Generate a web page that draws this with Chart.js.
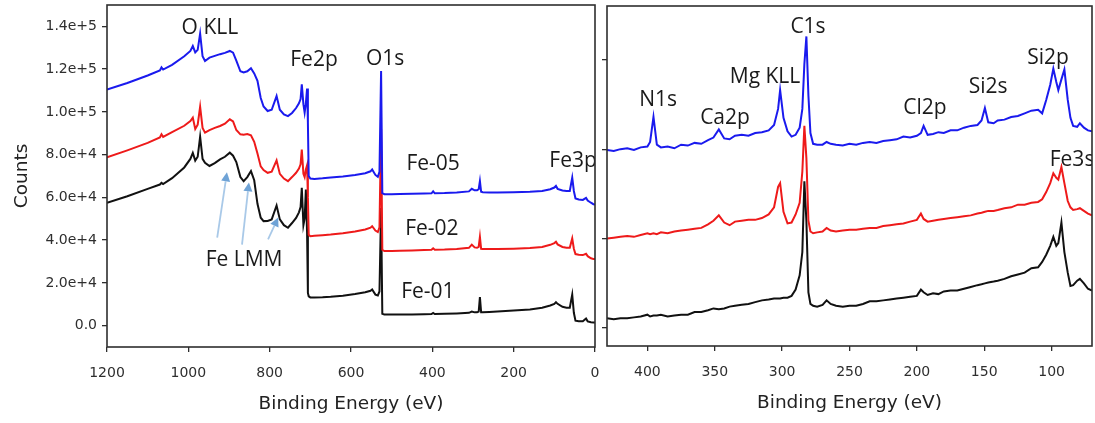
<!DOCTYPE html>
<html>
<head>
<meta charset="utf-8">
<script src="https://cdn.jsdelivr.net/npm/chart.js@4.4.1/dist/chart.umd.min.js"></script>
<style>
  html, body { margin: 0; padding: 0; background: #ffffff; }
  #wrap { position: relative; width: 1095px; height: 423px; overflow: hidden; background: #fff; }
  #c1 { position: absolute; left: 0; top: 0; }
  #c2 { position: absolute; left: 600px; top: 0; }
</style>
</head>
<body>
<div id="wrap">
  <canvas id="c1" width="600" height="423"></canvas>
  <canvas id="c2" width="495" height="423"></canvas>
</div>
<script>
// ---------------- DATA: survey panel (binding energy, eV) ----------------
const surveyEnergy = [
  1200, 1150, 1100, 1070, 1066, 1062, 1040, 1010, 995, 989,
  983, 977, 971, 965, 959, 948, 935, 922, 910, 898,
  890, 882, 872, 864, 855, 846, 838, 830, 822, 815,
  805, 795, 783, 775, 765, 755, 745, 735, 728, 724,
  721, 717, 714, 711, 708, 706, 704, 700, 690, 670,
  650, 620, 590, 565, 552, 548, 540, 534, 530, 526,
  523, 518, 500, 480, 450, 420, 402, 398, 394, 370,
  340, 310, 303, 296, 290, 286, 283, 280, 276, 260,
  240, 200, 160, 130, 110, 100, 96, 92, 80, 70,
  62, 56, 52, 48, 40, 30, 22, 18, 10, 4,
  0
];
const surveyFe05 = [
  110500, 113500, 117000, 119400, 120800, 119800, 122000, 126000, 128500, 130800,
  127800, 129000, 136600, 126000, 123800, 125400, 126200, 127000, 127600, 128500,
  127700, 124000, 119000, 118400, 119000, 120400, 118000, 114500, 106500, 102500,
  100400, 101000, 107400, 101000, 98800, 98000, 99500, 101800, 104000, 106000,
  112900, 103500, 99700, 104000, 110900, 95000, 70000, 68800, 68600, 68900,
  69300, 69800, 70500, 71300, 72200, 73100, 70500, 69600, 72000, 119100,
  62000, 61500, 61500, 61600, 61700, 61800, 61900, 62800, 61900, 62000,
  62300, 62800, 64000, 63300, 63300, 63800, 67600, 62600, 62400, 62300,
  62300, 62400, 62600, 63000, 63800, 64600, 65400, 64000, 63200, 63000,
  63000, 69200, 63000, 59500, 59000, 58800, 59800, 58500, 57500, 56800,
  56700
];
const surveyFe02 = [
  78700, 82000, 85500, 88000, 89500, 88300, 90500, 93500, 95700, 97300,
  92000, 94000, 102400, 92500, 90300, 91500, 92500, 93400, 94500, 96500,
  95500, 91500, 89500, 89300, 89600, 89000, 86000, 80500, 74500, 72800,
  71500, 72000, 77300, 71000, 68800, 67600, 69500, 71500, 73500, 75500,
  82400, 71000, 69500, 73000, 75000, 60000, 42500, 41800, 42000, 42300,
  42600, 43200, 44000, 45000, 45800, 46500, 44500, 43800, 46000, 92000,
  35500, 34900, 34900, 35000, 35200, 35400, 35500, 36200, 35500, 35600,
  35900, 36400, 37900, 36600, 36400, 36800, 41500, 35900, 35800, 35800,
  35800, 36000, 36300, 36800, 37800, 38600, 39200, 38000, 36800, 36400,
  36400, 40800, 36000, 33500, 33200, 33000, 33600, 32500, 31500, 31200,
  31200
];
const surveyFe01 = [
  57500, 60500, 64000, 66000, 66800, 66200, 69000, 74000, 78000, 80800,
  77200, 79000, 88400, 78000, 76200, 74700, 76000, 77800, 79000, 80900,
  79500, 76500, 69500, 67600, 69500, 72300, 68000, 57000, 50500, 48900,
  49000, 49700, 56200, 49700, 47000, 45800, 48000, 50400, 53000, 55500,
  64500, 47000, 50000, 63700, 43400, 15300, 13700, 13200, 13200, 13300,
  13500, 14000, 14800, 15600, 16300, 16900, 14500, 14100, 16000, 55000,
  5500, 5200, 5200, 5200, 5200, 5300, 5400, 5900, 5400, 5500,
  5700, 6000, 6600, 6200, 6200, 6600, 13400, 6200, 6200, 6400,
  6600, 7100, 7600, 8400, 9400, 10200, 11000, 10200, 8800, 8400,
  8400, 14500, 6000, 2300, 2000, 2000, 3300, 2000, 1600, 1500,
  1500
];
const surveyXTicks = [1200, 1000, 800, 600, 400, 200, 0];
const surveyXTickLabels = ['1200', '1000', '800', '600', '400', '200', '0'];
const surveyYTicks = [0, 20000, 40000, 60000, 80000, 100000, 120000, 140000];
const surveyYTickLabels = ['0.0', '2.0e+4', '4.0e+4', '6.0e+4', '8.0e+4', '1.0e+5', '1.2e+5', '1.4e+5'];

// ---------------- DATA: detail panel (binding energy, eV; arbitrary units) ----------------
const detailEnergy = [
  430, 425, 420, 415, 410, 405, 400, 398, 395.5, 393,
  390, 385, 380, 375, 370, 365, 360, 355, 351, 347,
  343, 339, 335, 330, 325, 320, 315, 310, 306, 303,
  301.5, 299, 296, 293, 290, 287, 285, 283.5, 282, 280.5,
  279, 277, 274, 270, 267, 264, 260, 255, 250, 245,
  240, 235, 230, 225, 220, 215, 210, 205, 200, 197,
  195, 192, 188, 184, 180, 175, 170, 165, 160, 155,
  152, 149.5, 147, 143, 140, 135, 130, 125, 120, 115,
  110, 107, 104, 101, 98.7, 96.5, 95, 92.7, 90.5, 88,
  86, 84, 81, 79, 76, 73, 70
];
const detailFe05 = [
  1.99, 1.98, 2.00, 2.01, 1.99, 2.02, 2.03, 2.08, 2.36, 2.05,
  2.02, 2.03, 2.01, 2.05, 2.04, 2.07, 2.06, 2.10, 2.13, 2.22,
  2.12, 2.11, 2.15, 2.16, 2.15, 2.18, 2.19, 2.21, 2.27, 2.45,
  2.66, 2.35, 2.20, 2.14, 2.16, 2.24, 2.45, 2.95, 3.26, 2.60,
  2.18, 2.06, 2.05, 2.05, 2.08, 2.06, 2.05, 2.04, 2.06, 2.05,
  2.07, 2.08, 2.07, 2.09, 2.10, 2.11, 2.14, 2.13, 2.15, 2.18,
  2.26, 2.16, 2.17, 2.19, 2.18, 2.21, 2.21, 2.24, 2.26, 2.27,
  2.32, 2.46, 2.30, 2.29, 2.32, 2.33, 2.36, 2.37, 2.40, 2.43,
  2.44, 2.40, 2.55, 2.72, 2.90, 2.75, 2.66, 2.78, 2.89, 2.55,
  2.35, 2.26, 2.25, 2.29, 2.24, 2.21, 2.20
];
const detailFe02 = [
  1.00, 1.01, 1.02, 1.03, 1.02, 1.04, 1.06, 1.05, 1.06, 1.05,
  1.07, 1.06, 1.08, 1.09, 1.10, 1.11, 1.12, 1.16, 1.20, 1.26,
  1.18, 1.15, 1.19, 1.20, 1.21, 1.21, 1.23, 1.27, 1.35, 1.58,
  1.62, 1.30, 1.17, 1.18, 1.27, 1.40, 1.75, 2.26, 1.90, 1.20,
  1.08, 1.06, 1.07, 1.08, 1.12, 1.09, 1.08, 1.09, 1.10, 1.10,
  1.11, 1.12, 1.12, 1.14, 1.15, 1.16, 1.17, 1.19, 1.21, 1.28,
  1.22, 1.19, 1.20, 1.21, 1.22, 1.23, 1.24, 1.25, 1.26, 1.28,
  1.29, 1.30, 1.31, 1.31, 1.32, 1.34, 1.35, 1.38, 1.38, 1.40,
  1.41, 1.44, 1.52, 1.62, 1.73, 1.68, 1.66, 1.80, 1.62, 1.42,
  1.35, 1.32, 1.33, 1.34, 1.31, 1.28, 1.26
];
const detailFe01 = [
  0.11, 0.10, 0.11, 0.11, 0.12, 0.13, 0.15, 0.13, 0.14, 0.14,
  0.15, 0.13, 0.14, 0.15, 0.15, 0.18, 0.18, 0.20, 0.22, 0.21,
  0.22, 0.24, 0.25, 0.26, 0.27, 0.29, 0.31, 0.32, 0.33, 0.33,
  0.33, 0.34, 0.34, 0.36, 0.43, 0.59, 0.85, 1.64, 1.20, 0.40,
  0.27, 0.25, 0.24, 0.26, 0.31, 0.27, 0.25, 0.24, 0.25, 0.25,
  0.27, 0.30, 0.30, 0.31, 0.32, 0.33, 0.34, 0.35, 0.36, 0.43,
  0.40, 0.37, 0.39, 0.38, 0.41, 0.42, 0.42, 0.44, 0.46, 0.48,
  0.49, 0.50, 0.51, 0.52, 0.53, 0.55, 0.58, 0.60, 0.62, 0.67,
  0.68, 0.74, 0.82, 0.92, 1.02, 0.92, 0.95, 1.18, 0.85, 0.62,
  0.47, 0.48, 0.53, 0.55, 0.50, 0.44, 0.42
];
const detailXTicks = [400, 350, 300, 250, 200, 150, 100];
const detailXTickLabels = ['400', '350', '300', '250', '200', '150', '100'];
const detailYTicks = [0, 1, 2, 3];

// ---------------- Annotations (data coordinates) ----------------
const surveyNotes = [
  { text: 'O KLL', e: 947, v: 139100 },
  { text: 'Fe2p', e: 691, v: 124100 },
  { text: 'O1s', e: 516, v: 124600 },
  { text: 'Fe-05', e: 398, v: 75400 },
  { text: 'Fe3p', e: 54, v: 76800 },
  { text: 'Fe-02', e: 401, v: 45400 },
  { text: 'Fe-01', e: 411, v: 15500 },
  { text: 'Fe LMM', e: 863, v: 30900 }
];
const surveyArrows = [
  { from: [929, 41200], to: [905, 71700] },
  { from: [868, 37900], to: [851, 67000] },
  { from: [804, 40300], to: [779, 50600] }
];
const detailNotes = [
  { text: 'N1s', e: 392, v: 2.55 },
  { text: 'Ca2p', e: 342.4, v: 2.35 },
  { text: 'Mg KLL', e: 312.7, v: 2.81 },
  { text: 'C1s', e: 280.8, v: 3.37 },
  { text: 'Cl2p', e: 194, v: 2.46 },
  { text: 'Si2s', e: 147.1, v: 2.69 },
  { text: 'Si2p', e: 102.6, v: 3.02 },
  { text: 'Fe3s', e: 84.8, v: 1.88 }
];

// ---------------- Styling ----------------
const BLUE = '#1a1aee', RED = '#ee1a1a', BLACK = '#111111';
const AXIS = '#2e2e2e';
const tickFont = { family: '"DejaVu Sans", sans-serif', size: 14 };
const titleFont = { family: '"DejaVu Sans", sans-serif', size: 18.5 };

function pts(xs, ys) { return xs.map((x, i) => ({ x: x, y: ys[i] })); }
function ds(label, xs, ys, color) {
  return { label: label, data: pts(xs, ys), borderColor: color, backgroundColor: color,
           borderWidth: 2, pointRadius: 0, tension: 0, fill: false };
}

function overlay(notes, arrows) {
  return {
    id: 'overlay',
    afterDraw(chart) {
      const { ctx, chartArea: a, scales: { x, y } } = chart;
      ctx.save();
      ctx.beginPath();
      ctx.rect(a.left, a.top, a.right - a.left, a.bottom - a.top);
      ctx.clip();
      (arrows || []).forEach(ar => {
        const x1 = x.getPixelForValue(ar.from[0]), y1 = y.getPixelForValue(ar.from[1]);
        const x2 = x.getPixelForValue(ar.to[0]), y2 = y.getPixelForValue(ar.to[1]);
        const ang = Math.atan2(y2 - y1, x2 - x1), hl = 9, hw = 4.5;
        const bx = x2 - hl * Math.cos(ang), by = y2 - hl * Math.sin(ang);
        ctx.strokeStyle = '#a9c9e8'; ctx.lineWidth = 1.8;
        ctx.beginPath(); ctx.moveTo(x1, y1); ctx.lineTo(bx, by); ctx.stroke();
        ctx.fillStyle = '#6fa3d6';
        ctx.beginPath();
        ctx.moveTo(x2, y2);
        ctx.lineTo(bx + hw * Math.sin(ang), by - hw * Math.cos(ang));
        ctx.lineTo(bx - hw * Math.sin(ang), by + hw * Math.cos(ang));
        ctx.closePath(); ctx.fill();
      });
      ctx.font = '21px "Open Sans", sans-serif';
      ctx.fillStyle = '#1a1a1a';
      ctx.textAlign = 'center';
      ctx.textBaseline = 'middle';
      notes.forEach(n => ctx.fillText(n.text, x.getPixelForValue(n.e), y.getPixelForValue(n.v)));
      ctx.restore();
      ctx.save();
      ctx.strokeStyle = AXIS; ctx.lineWidth = 1.6;
      ctx.strokeRect(a.left, a.top, a.right - a.left, a.bottom - a.top);
      ctx.restore();
    }
  };
}

function xScale(min, max, ticks, labels) {
  return {
    type: 'linear', reverse: true, min: min, max: max,
    afterBuildTicks: s => { s.ticks = ticks.map(v => ({ value: v })); },
    ticks: { font: tickFont, color: AXIS, padding: 13, maxRotation: 0, autoSkip: false,
             callback: (v, i) => labels[i] },
    grid: { drawOnChartArea: false, drawTicks: true, tickLength: 5, color: AXIS, lineWidth: 1.3 },
    border: { display: false },
    title: { display: true, text: 'Binding Energy (eV)', font: titleFont, color: '#222', padding: { top: 0, bottom: 8 } },
    afterFit: s => { s.height = 76; s.paddingLeft = 0; s.paddingRight = 0; }
  };
}

// ---------------- Survey chart ----------------
new Chart(document.getElementById('c1'), {
  type: 'line',
  data: { datasets: [
    ds('Fe-05', surveyEnergy, surveyFe05, BLUE),
    ds('Fe-02', surveyEnergy, surveyFe02, RED),
    ds('Fe-01', surveyEnergy, surveyFe01, BLACK)
  ] },
  options: {
    responsive: false, animation: false, events: [],
    layout: { padding: { top: 5, right: 5, left: 0, bottom: 0 } },
    plugins: { legend: { display: false }, tooltip: { enabled: false } },
    scales: {
      x: xScale(0, 1200, surveyXTicks, surveyXTickLabels),
      y: {
        type: 'linear', min: -10000, max: 150000,
        afterBuildTicks: s => { s.ticks = surveyYTicks.map(v => ({ value: v })); },
        ticks: { font: tickFont, color: AXIS, padding: 5,
                 callback: (v, i) => surveyYTickLabels[i] },
        grid: { drawOnChartArea: false, drawTicks: true, tickLength: 5, color: AXIS, lineWidth: 1.3 },
        border: { display: false },
        title: { display: true, text: 'Counts', font: titleFont, color: '#222', padding: { top: 11, bottom: 0 } },
        afterFit: s => { s.width = 107; s.paddingTop = 0; s.paddingBottom = 0; }
      }
    }
  },
  plugins: [overlay(surveyNotes, surveyArrows)]
});

// ---------------- Detail chart ----------------
new Chart(document.getElementById('c2'), {
  type: 'line',
  data: { datasets: [
    ds('Fe-05', detailEnergy, detailFe05, BLUE),
    ds('Fe-02', detailEnergy, detailFe02, RED),
    ds('Fe-01', detailEnergy, detailFe01, BLACK)
  ] },
  options: {
    responsive: false, animation: false, events: [],
    layout: { padding: { top: 6, right: 3, left: 0, bottom: 1 } },
    plugins: { legend: { display: false }, tooltip: { enabled: false } },
    scales: {
      x: xScale(70, 430, detailXTicks, detailXTickLabels),
      y: {
        type: 'linear', min: -0.2, max: 3.6,
        afterBuildTicks: s => { s.ticks = detailYTicks.map(v => ({ value: v })); },
        ticks: { display: false },
        grid: { drawOnChartArea: false, drawTicks: true, tickLength: 5, color: AXIS, lineWidth: 1.3 },
        border: { display: false },
        afterFit: s => { s.width = 7; s.paddingTop = 0; s.paddingBottom = 0; }
      }
    }
  },
  plugins: [overlay(detailNotes, [])]
});
</script>
</body>
</html>
